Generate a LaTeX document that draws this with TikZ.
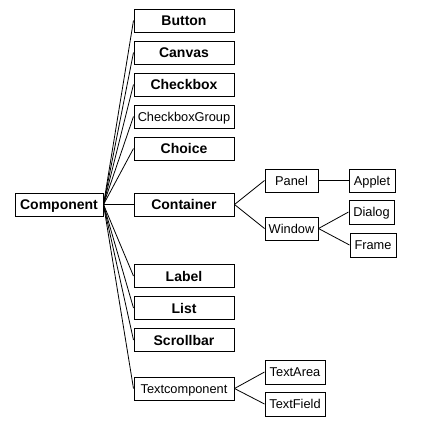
\documentclass[tikz,border=0pt]{standalone}
\usepackage{fontspec}
\setmainfont{Liberation Sans}
\begin{document}
\begin{tikzpicture}[x=1pt,y=-1pt,
  cls/.style={draw, line width=1pt, inner sep=0pt, minimum height=23, text height=9.2pt, text depth=0pt, font=\fontsize{12.8}{14}\selectfont},
  bcls/.style={cls, text height=10.2pt, font=\fontsize{14}{15}\bfseries\selectfont},
  col/.style={minimum width=100},
  link/.style={line width=0.8pt}]
\useasboundingbox (0,0) rectangle (437,424);
\node[bcls, minimum width=88] (comp) at (59,204.5) {Component};
\node[bcls, col] (button) at (184,20.5) {Button};
\node[bcls, col] (canvas) at (184,52.5) {Canvas};
\node[bcls, col] (checkbox) at (184,84.5) {Checkbox};
\node[cls, col] (cbgroup) at (184,116.5) {CheckboxGroup};
\node[bcls, col] (choice) at (184,148.5) {Choice};
\node[bcls, col] (container) at (184,204.5) {Container};
\node[bcls, col] (label) at (184,276) {Label};
\node[bcls, col] (list) at (184,308) {List};
\node[bcls, col] (scrollbar) at (184,340) {Scrollbar};
\node[cls, col] (textcomp) at (184,388.5) {Textcomponent};
\node[cls, minimum width=53] (panel) at (291.5,180.5) {Panel};
\node[cls, minimum width=53] (window) at (291.5,228.5) {Window};
\node[cls, minimum width=46] (applet) at (372,180.5) {Applet};
\node[cls, minimum width=45, minimum height=24] (dialog) at (371.5,212) {Dialog};
\node[cls, minimum width=46, minimum height=24] (frame) at (373,245) {Frame};
\node[cls, minimum width=60, minimum height=24] (textarea) at (295,372) {TextArea};
\node[cls, minimum width=60, minimum height=24] (textfield) at (295,404) {TextField};
\foreach \n in {button,canvas,checkbox,cbgroup,choice,container,label,list,scrollbar,textcomp}
  \draw[link] (comp.east) -- (\n.west);
\draw[link] (container.east) -- (panel.west);
\draw[link] (container.east) -- (window.west);
\draw[link] (panel.east) -- (applet.west);
\draw[link] (window.east) -- (dialog.west);
\draw[link] (window.east) -- (frame.west);
\draw[link] (textcomp.east) -- (textarea.west);
\draw[link] (textcomp.east) -- (textfield.west);
\end{tikzpicture}
\end{document}
